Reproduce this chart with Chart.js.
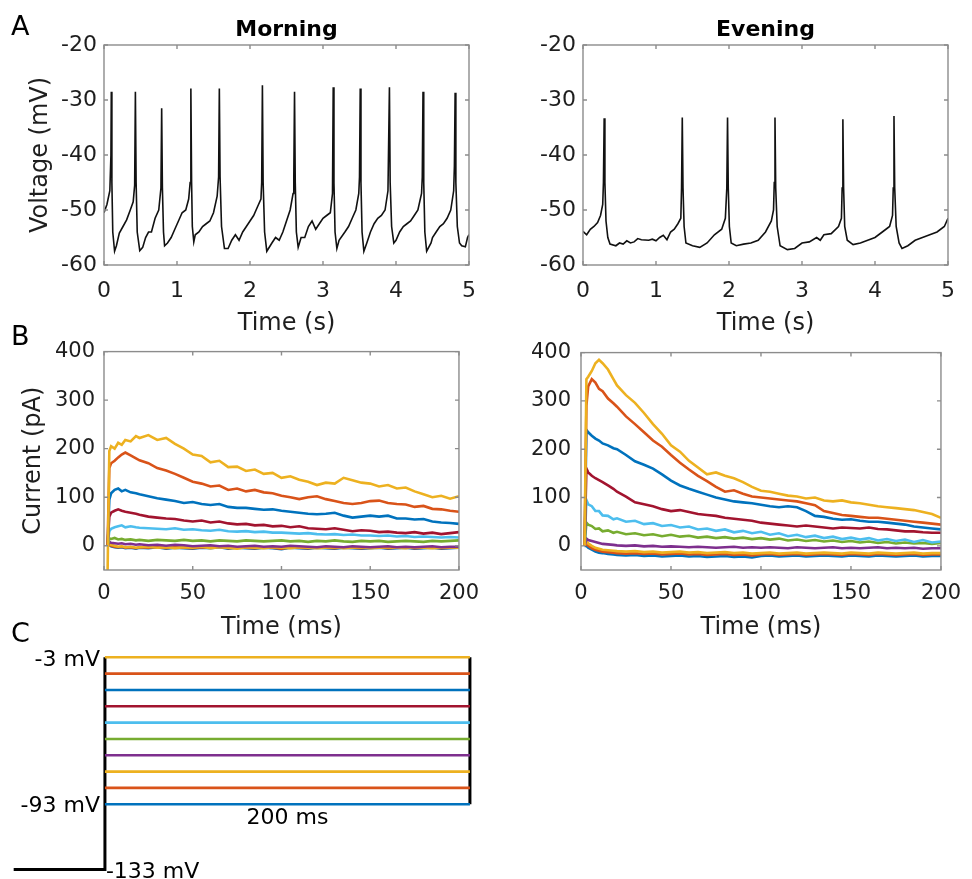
<!DOCTYPE html>
<html>
<head>
<meta charset="utf-8">
<title>Morning vs Evening</title>
<script src="https://cdn.jsdelivr.net/npm/chart.js@4.4.1/dist/chart.umd.min.js"></script>
<style>
  body { margin: 0; background: #fff; }
  #fig { position: relative; width: 972px; height: 879px; overflow: hidden; font-family: 'DejaVu Sans', sans-serif; }
  #fig canvas { position: absolute; }
  .letter { position: absolute; font-size: 27px; line-height: 27px; color: #000; }
</style>
</head>
<body>
<div id="fig">
  <canvas id="aMorning" width="490" height="340" style="left:0;top:0"></canvas>
  <canvas id="aEvening" width="482" height="340" style="left:490px;top:0"></canvas>
  <canvas id="bMorning" width="490" height="320" style="left:0;top:330px"></canvas>
  <canvas id="bEvening" width="482" height="320" style="left:490px;top:330px"></canvas>
  <canvas id="cProtocol" width="490" height="239" style="left:0;top:640px"></canvas>
  <div class="letter" style="left:11px;top:12px">A</div>
  <div class="letter" style="left:11px;top:322px">B</div>
  <div class="letter" style="left:11px;top:619px">C</div>
</div>
<script>
// ---- A: spontaneous firing (time in s, voltage in mV) ----
const morningTime = [0, 0.04, 0.08, 0.095, 0.10, 0.108, 0.12, 0.145, 0.17, 0.21, 0.26, 0.31, 0.36, 0.40, 0.42, 0.43, 0.44, 0.455, 0.49, 0.53,
  0.57, 0.61, 0.65, 0.70, 0.75, 0.78, 0.79, 0.80, 0.815, 0.83, 0.87, 0.92, 0.97, 1.02, 1.07, 1.12, 1.16, 1.18, 1.19, 1.20,
  1.21, 1.23, 1.25, 1.30, 1.35, 1.40, 1.45, 1.50, 1.55, 1.57, 1.58, 1.59, 1.61, 1.65, 1.70, 1.75, 1.80, 1.85, 1.90, 1.95,
  2.00, 2.05, 2.10, 2.15, 2.16, 2.17, 2.18, 2.20, 2.23, 2.30, 2.35, 2.40, 2.45, 2.50, 2.55, 2.59, 2.60, 2.61, 2.62, 2.635,
  2.66, 2.70, 2.75, 2.80, 2.85, 2.90, 2.95, 3.00, 3.05, 3.10, 3.13, 3.14, 3.15, 3.165, 3.19, 3.22, 3.30, 3.35, 3.40, 3.45,
  3.49, 3.50, 3.51, 3.52, 3.535, 3.56, 3.60, 3.65, 3.70, 3.75, 3.80, 3.85, 3.89, 3.91, 3.92, 3.94, 3.97, 4.00, 4.05, 4.10,
  4.15, 4.20, 4.25, 4.30, 4.35, 4.36, 4.37, 4.38, 4.395, 4.42, 4.48, 4.50, 4.55, 4.60, 4.65, 4.70, 4.75, 4.79, 4.80, 4.81,
  4.82, 4.84, 4.87, 4.90, 4.95, 4.98, 5.00];
const morningVoltage = [-50.5, -49, -46.5, -40, -28.5, -45, -54, -57.5, -56.5, -54.2, -53, -51.8, -50, -48.5, -45.5, -28.5, -45, -54, -57.4, -56.8,
  -55, -54, -54, -51.5, -50, -46, -31.5, -46, -54, -56.5, -56, -55, -53.5, -52, -50.5, -50, -48, -45, -27.9, -45,
  -53, -55.8, -54.5, -54, -53, -52.5, -52, -50.5, -47.5, -44, -27.9, -44, -53, -57, -57, -55.5, -54.5, -55.5, -54, -53,
  -52, -51, -49.5, -48, -45, -27.3, -45, -54, -57.5, -56, -55, -55.5, -54, -52, -50, -47, -44, -28.5, -45, -54,
  -56.8, -55, -55, -53, -52, -53.5, -52.5, -51.5, -51, -50.5, -47, -27.7, -45, -54, -57, -55.5, -54, -53, -51.5, -50,
  -47, -44, -27.9, -45, -54, -57.5, -56, -54, -52.5, -51.5, -51, -50, -46.5, -27.7, -45, -53, -56, -55.5, -54, -53,
  -52.5, -52, -51, -50, -47, -44, -28.5, -45, -54, -57.5, -56, -55, -54, -53, -52.5, -51.5, -50, -46.5, -42, -28.7,
  -45, -53, -56, -56.5, -56.7, -55, -54.5];

const eveningTime = [0, 0.05, 0.1, 0.15, 0.2, 0.24, 0.27, 0.28, 0.29, 0.30, 0.315, 0.34, 0.37, 0.45, 0.50, 0.55, 0.6, 0.65, 0.7, 0.75,
  0.8, 0.9, 0.95, 1.0, 1.05, 1.1, 1.15, 1.2, 1.25, 1.3, 1.34, 1.35, 1.36, 1.37, 1.385, 1.41, 1.5, 1.6, 1.7, 1.8,
  1.9, 1.95, 1.97, 1.98, 1.99, 2.005, 2.03, 2.1, 2.2, 2.3, 2.4, 2.5, 2.58, 2.61, 2.62, 2.63, 2.64, 2.66, 2.7, 2.8,
  2.9, 3.0, 3.1, 3.2, 3.25, 3.3, 3.4, 3.5, 3.54, 3.55, 3.56, 3.57, 3.585, 3.62, 3.7, 3.8, 3.9, 4.0, 4.1, 4.2,
  4.24, 4.25, 4.26, 4.27, 4.29, 4.33, 4.37, 4.45, 4.55, 4.65, 4.75, 4.85, 4.95, 5.0];
const eveningVoltage = [-53.9, -54.5, -53.5, -53, -52.3, -51, -49, -45, -33.3, -45, -52, -55, -56.2, -56.5, -56, -56.2, -55.6, -56, -55.8, -55.2,
  -55.4, -55.5, -55.3, -55.6, -55, -54.6, -55.4, -54, -53.5, -52.5, -51.5, -46, -33.2, -46, -53, -56, -56.5, -56.8, -56, -54.5,
  -53.5, -51.5, -46, -33.2, -46, -53, -56, -56.5, -56.2, -56, -55.5, -54, -52, -50, -45, -33.2, -46, -53, -56.5, -57.2,
  -57, -56, -55.8, -55, -55.5, -54.5, -54.3, -53, -51.5, -46, -33.5, -46, -53, -55.5, -56.3, -56, -55.5, -55, -54, -53,
  -51, -46, -32.9, -46, -53, -56, -57, -56.5, -55.5, -55, -54.5, -54, -53, -51.5];

// ---- B: step-evoked currents (time in ms, current in pA) ----
const currentTime = [2, 3, 4, 6, 8, 10, 12, 15, 18, 20,
  25, 30, 35, 40, 45, 50, 55, 60, 65, 70,
  75, 80, 85, 90, 95, 100, 105, 110, 115, 120,
  125, 130, 135, 140, 145, 150, 155, 160, 165, 170,
  175, 180, 185, 190, 195, 200];

const morning_m3 = [-60, 195, 205, 200, 212, 208, 218, 215, 226, 222, 228, 218, 222, 210, 200, 188, 185, 172, 175, 162,
  163, 154, 157, 148, 150, 140, 143, 136, 132, 125, 130, 128, 140, 135, 130, 128, 122, 125, 118, 120, 112, 106, 100, 103, 97, 102];
const morning_m13 = [0, 160, 170, 175, 182, 188, 192, 186, 180, 176, 170, 160, 155, 148, 140, 132, 128, 122, 124, 115,
  118, 112, 115, 110, 108, 103, 100, 96, 100, 102, 96, 92, 88, 86, 88, 92, 93, 88, 86, 85, 80, 82, 76, 75, 72, 70];
const morning_m23 = [0, 95, 108, 115, 118, 112, 115, 110, 108, 106, 102, 98, 95, 92, 88, 90, 86, 84, 86, 80,
  78, 78, 76, 74, 75, 72, 70, 68, 66, 65, 66, 68, 62, 58, 60, 62, 60, 62, 56, 56, 54, 55, 50, 48, 47, 45];
const morning_m33 = [0, 60, 68, 72, 75, 72, 70, 68, 66, 64, 60, 58, 56, 55, 52, 50, 52, 48, 50, 46,
  44, 45, 42, 43, 40, 41, 38, 40, 36, 35, 34, 36, 33, 30, 32, 31, 28, 29, 27, 26, 28, 25, 27, 24, 26, 28];
const morning_m43 = [0, 30, 35, 38, 40, 42, 38, 40, 38, 37, 36, 35, 34, 36, 33, 34, 32, 31, 33, 30,
  29, 30, 28, 29, 27, 27, 26, 25, 26, 24, 23, 24, 22, 23, 21, 21, 20, 21, 19, 20, 18, 19, 18, 17, 18, 17];
const morning_m53 = [0, 15, 14, 16, 13, 14, 12, 13, 11, 12, 10, 12, 11, 10, 12, 10, 11, 9, 11, 10,
  9, 11, 10, 9, 10, 11, 9, 10, 8, 10, 9, 11, 9, 8, 10, 9, 10, 8, 9, 10, 9, 8, 10, 9, 10, 11];
const morning_m63 = [0, 8, 6, 5, 4, 5, 3, 4, 2, 3, 1, 2, 0, 2, 1, -1, 0, 1, -1, 0,
  -2, -1, 0, -2, -1, -2, 0, -1, -2, -3, -1, -2, -3, -1, -2, -3, -2, -1, -3, -2, -3, -2, -1, -3, -2, -2];
const morning_m73 = [0, 5, 2, 0, -2, -1, -3, -2, -4, -3, -2, -4, -3, -5, -3, -4, -2, -5, -3, -4,
  -6, -3, -4, -5, -3, -4, -5, -3, -4, -5, -4, -3, -5, -4, -3, -5, -4, -3, -4, -5, -3, -4, -5, -4, -3, -4];
const morning_m83 = [0, 3, 0, -2, -3, -2, -4, -3, -5, -3, -4, -2, -5, -3, -4, -5, -3, -4, -2, -5,
  -3, -4, -5, -3, -4, -6, -3, -4, -5, -3, -4, -5, -3, -4, -5, -4, -3, -5, -4, -3, -5, -4, -3, -5, -4, -3];
const morning_m93 = [0, 2, -1, -3, -4, -3, -5, -4, -6, -4, -5, -3, -6, -4, -5, -6, -4, -5, -3, -6,
  -4, -5, -6, -4, -5, -7, -4, -5, -6, -4, -5, -6, -4, -5, -6, -5, -4, -6, -5, -4, -6, -5, -4, -6, -5, -4];

const evening_m3 = [0, 345, 350, 362, 378, 385, 378, 365, 345, 332, 312, 296, 275, 252, 232, 208, 195, 176, 162, 148,
  152, 145, 140, 132, 122, 114, 112, 108, 104, 102, 98, 100, 94, 92, 94, 90, 88, 85, 82, 80, 78, 76, 74, 70, 66, 58];
const evening_m13 = [0, 290, 330, 345, 338, 325, 320, 305, 295, 288, 268, 252, 235, 218, 205, 188, 172, 158, 145, 134,
  122, 112, 115, 108, 102, 100, 98, 96, 94, 92, 88, 84, 72, 68, 64, 62, 60, 58, 58, 56, 54, 52, 50, 48, 46, 44];
const evening_m23 = [0, 240, 235, 228, 222, 218, 212, 208, 202, 200, 188, 175, 168, 160, 148, 135, 125, 118, 112, 106,
  100, 96, 92, 90, 88, 85, 82, 80, 82, 80, 72, 62, 60, 56, 54, 55, 52, 50, 50, 48, 46, 44, 40, 38, 36, 34];
const evening_m33 = [0, 160, 152, 145, 140, 136, 132, 125, 118, 112, 102, 90, 86, 82, 76, 72, 74, 70, 66, 64,
  62, 58, 56, 54, 52, 48, 46, 44, 42, 40, 42, 40, 38, 36, 38, 37, 36, 38, 35, 34, 32, 30, 30, 28, 27, 27];
const evening_m43 = [0, 95, 86, 82, 72, 72, 63, 62, 55, 57, 50, 52, 45, 47, 41, 43, 38, 40, 34, 36,
  31, 34, 28, 31, 26, 29, 23, 26, 20, 23, 18, 21, 16, 19, 14, 17, 13, 16, 11, 14, 10, 13, 8, 12, 7, 9];
const evening_m53 = [0, 48, 44, 41, 35, 36, 30, 32, 27, 29, 24, 26, 22, 24, 20, 23, 19, 21, 17, 19,
  16, 18, 15, 17, 14, 16, 13, 15, 11, 13, 10, 12, 9, 11, 8, 10, 7, 9, 6, 8, 5, 7, 5, 6, 4, 6];
const evening_m63 = [0, 15, 12, 10, 8, 6, 4, 3, 2, 1, 0, 1, -1, 0, -2, -1, -2, -3, -2, -3,
  -4, -3, -2, -4, -3, -4, -3, -4, -5, -3, -4, -5, -4, -3, -5, -4, -5, -4, -3, -5, -4, -5, -4, -6, -5, -5];
const evening_m73 = [0, 10, 5, 0, -4, -6, -8, -9, -10, -11, -12, -11, -13, -12, -14, -13, -12, -14, -13, -15,
  -14, -13, -15, -14, -16, -15, -14, -16, -15, -14, -16, -15, -14, -15, -16, -14, -15, -16, -14, -15, -16, -15, -14, -16, -15, -15];
const evening_m83 = [0, 5, 0, -5, -8, -10, -12, -13, -14, -15, -16, -15, -17, -16, -18, -17, -16, -18, -17, -19,
  -18, -17, -19, -18, -20, -18, -17, -19, -18, -17, -19, -18, -17, -18, -19, -17, -18, -19, -17, -18, -19, -18, -17, -19, -18, -18];
const evening_m93 = [0, 0, -4, -8, -12, -14, -15, -17, -18, -19, -20, -19, -21, -20, -22, -21, -20, -22, -21, -23,
  -22, -21, -23, -22, -24, -21, -20, -22, -21, -20, -22, -21, -20, -21, -22, -20, -21, -22, -20, -21, -22, -21, -20, -22, -21, -21];

// ---- C: voltage protocol ----
const stepVoltages = [-3, -13, -23, -33, -43, -53, -63, -73, -83, -93];
const holdVoltage = -133;
const preHoldTime = -50;
const stepDuration = 200;

const morningCurrents = [morning_m3, morning_m13, morning_m23, morning_m33, morning_m43, morning_m53, morning_m63, morning_m73, morning_m83, morning_m93];
const eveningCurrents = [evening_m3, evening_m13, evening_m23, evening_m33, evening_m43, evening_m53, evening_m63, evening_m73, evening_m83, evening_m93];

// MATLAB default line colours, one per step (top step first)
const stepColors = ['#EDB120', '#D95319', '#0072BD', '#A2142F', '#4DBEEE', '#77AC30', '#7E2F8E', '#EDB120', '#D95319', '#0072BD'];

const FONT = "'DejaVu Sans', sans-serif";
const INK = '#1e1e1e';

function xy(ts, vs) {
  return ts.map((t, i) => ({x: t, y: vs[i]}));
}

// box around the axes with inward ticks, like MATLAB, plus the bold panel title
const boxPlugin = {
  id: 'matlabBox',
  afterDraw(chart, args, opts) {
    const {ctx, chartArea: a} = chart;
    const xs = chart.scales.x, ys = chart.scales.y;
    ctx.save();
    ctx.strokeStyle = '#8c8c8c';
    ctx.lineWidth = 1.4;
    ctx.strokeRect(a.left, a.top, a.right - a.left, a.bottom - a.top);
    ctx.beginPath();
    xs.ticks.forEach(t => {
      const px = xs.getPixelForValue(t.value);
      ctx.moveTo(px, a.bottom); ctx.lineTo(px, a.bottom - 4);
      ctx.moveTo(px, a.top); ctx.lineTo(px, a.top + 4);
    });
    ys.ticks.forEach(t => {
      const py = ys.getPixelForValue(t.value);
      ctx.moveTo(a.left, py); ctx.lineTo(a.left + 4, py);
      ctx.moveTo(a.right, py); ctx.lineTo(a.right - 4, py);
    });
    ctx.stroke();
    if (opts.title) {
      ctx.fillStyle = '#000';
      ctx.font = `bold 22px ${FONT}`;
      ctx.textAlign = 'center';
      ctx.textBaseline = 'alphabetic';
      ctx.fillText(opts.title, (a.left + a.right) / 2, opts.titleY);
    }
    ctx.restore();
  }
};

function traceChart(id, datasets, cfg) {
  const tickFont = {family: FONT, size: cfg.tickSize};
  const titleFont = {family: FONT, size: 24};
  return new Chart(document.getElementById(id), {
    type: 'line',
    data: {datasets},
    options: {
      responsive: false,
      animation: false,
      events: [],
      layout: {padding: cfg.padding},
      elements: {point: {radius: 0}, line: {tension: 0}},
      plugins: {
        legend: {display: false},
        tooltip: {enabled: false},
        matlabBox: {title: cfg.title, titleY: 36}
      },
      scales: {
        x: {
          type: 'linear', min: cfg.x[0], max: cfg.x[1],
          ticks: {stepSize: cfg.x[2], font: tickFont, color: INK, padding: cfg.xTickPad, maxRotation: 0, autoSkip: false},
          grid: {display: false, drawTicks: false},
          border: {display: false},
          title: {display: true, text: cfg.xTitle, font: titleFont, color: INK, padding: {top: 0, bottom: cfg.xTitlePad}},
          afterFit: s => { s.height = cfg.xHeight; }
        },
        y: {
          type: 'linear', min: cfg.y[0], max: cfg.y[1],
          ticks: {stepSize: cfg.y[2], font: tickFont, color: INK, padding: cfg.yTickPad},
          grid: {display: false, drawTicks: false},
          border: {display: false},
          title: {display: !!cfg.yTitle, text: cfg.yTitle || '', font: titleFont, color: INK, padding: {top: cfg.yTitlePad || 0, bottom: 0}},
          afterBuildTicks: s => { s.ticks = s.ticks.filter(t => t.value >= cfg.y[3]); },
          afterFit: s => { s.width = cfg.yWidth; }
        }
      }
    },
    plugins: [boxPlugin]
  });
}

function voltageSet(ts, vs) {
  return [{data: xy(ts, vs), borderColor: '#111', borderWidth: 1.6}];
}

function currentSets(traces) {
  return traces.map((vals, i) => ({
    data: xy(currentTime, vals),
    borderColor: stepColors[i],
    borderWidth: 2.6
  }));
}

traceChart('aMorning', voltageSet(morningTime, morningVoltage), {
  title: 'Morning', x: [0, 5, 1], y: [-60, -20, 10, -60],
  padding: {top: 45, right: 21, left: 0, bottom: 0},
  yWidth: 104, xHeight: 75, tickSize: 22, xTickPad: 13, yTickPad: 7,
  xTitle: 'Time (s)', xTitlePad: 2, yTitle: 'Voltage (mV)', yTitlePad: 26
});

traceChart('aEvening', voltageSet(eveningTime, eveningVoltage), {
  title: 'Evening', x: [0, 5, 1], y: [-60, -20, 10, -60],
  padding: {top: 45, right: 24, left: 0, bottom: 0},
  yWidth: 93, xHeight: 75, tickSize: 22, xTickPad: 13, yTickPad: 7,
  xTitle: 'Time (s)', xTitlePad: 2
});

traceChart('bMorning', currentSets(morningCurrents), {
  x: [0, 200, 50], y: [-50, 400, 100, 0],
  padding: {top: 21, right: 21, left: 0, bottom: 0},
  yWidth: 104, xHeight: 80, tickSize: 21, xTickPad: 11, yTickPad: 9,
  xTitle: 'Time (ms)', xTitlePad: 8, yTitle: 'Current (pA)', yTitlePad: 19
});

traceChart('bEvening', currentSets(eveningCurrents), {
  x: [0, 200, 50], y: [-50, 400, 100, 0],
  padding: {top: 22, right: 26, left: 0, bottom: 0},
  yWidth: 91, xHeight: 80, tickSize: 21, xTickPad: 11, yTickPad: 10,
  xTitle: 'Time (ms)', xTitlePad: 8
});

// panel C: the step protocol drawn on hidden linear scales
const protocolLabels = {
  id: 'protocolLabels',
  afterDraw(chart) {
    const {ctx} = chart;
    const xs = chart.scales.x, ys = chart.scales.y;
    const top = stepVoltages[0], bottom = stepVoltages[stepVoltages.length - 1];
    ctx.save();
    ctx.fillStyle = '#000';
    ctx.font = `22px ${FONT}`;
    ctx.textBaseline = 'middle';
    ctx.textAlign = 'right';
    ctx.fillText(`${top} mV`, xs.getPixelForValue(0) - 5, ys.getPixelForValue(top) + 3);
    ctx.fillText(`${bottom} mV`, xs.getPixelForValue(0) - 5, ys.getPixelForValue(bottom) + 2);
    ctx.textAlign = 'center';
    ctx.fillText(`${stepDuration} ms`, xs.getPixelForValue(stepDuration / 2), ys.getPixelForValue(bottom) + 14);
    ctx.textAlign = 'left';
    ctx.fillText(`${holdVoltage} mV`, xs.getPixelForValue(0) + 1, ys.getPixelForValue(holdVoltage) + 3);
    ctx.restore();
  }
};

const protocolSets = stepVoltages.map((v, i) => ({
  data: [{x: 0, y: v}, {x: stepDuration, y: v}],
  borderColor: stepColors[i],
  borderWidth: 2.6
}));
protocolSets.push({
  data: [{x: preHoldTime, y: holdVoltage}, {x: 0, y: holdVoltage}, {x: 0, y: stepVoltages[0]}],
  borderColor: '#000', borderWidth: 3
});
protocolSets.push({
  data: [{x: stepDuration, y: stepVoltages[0]}, {x: stepDuration, y: stepVoltages[stepVoltages.length - 1]}],
  borderColor: '#000', borderWidth: 3
});

new Chart(document.getElementById('cProtocol'), {
  type: 'line',
  data: {datasets: protocolSets},
  options: {
    responsive: false,
    animation: false,
    events: [],
    layout: {padding: 0},
    elements: {point: {radius: 0}, line: {tension: 0}},
    plugins: {legend: {display: false}, tooltip: {enabled: false}},
    scales: {
      x: {type: 'linear', display: false, min: -57.5, max: 211},
      y: {type: 'linear', display: false, min: -138.8, max: 7.6}
    }
  },
  plugins: [protocolLabels]
});
</script>
</body>
</html>
